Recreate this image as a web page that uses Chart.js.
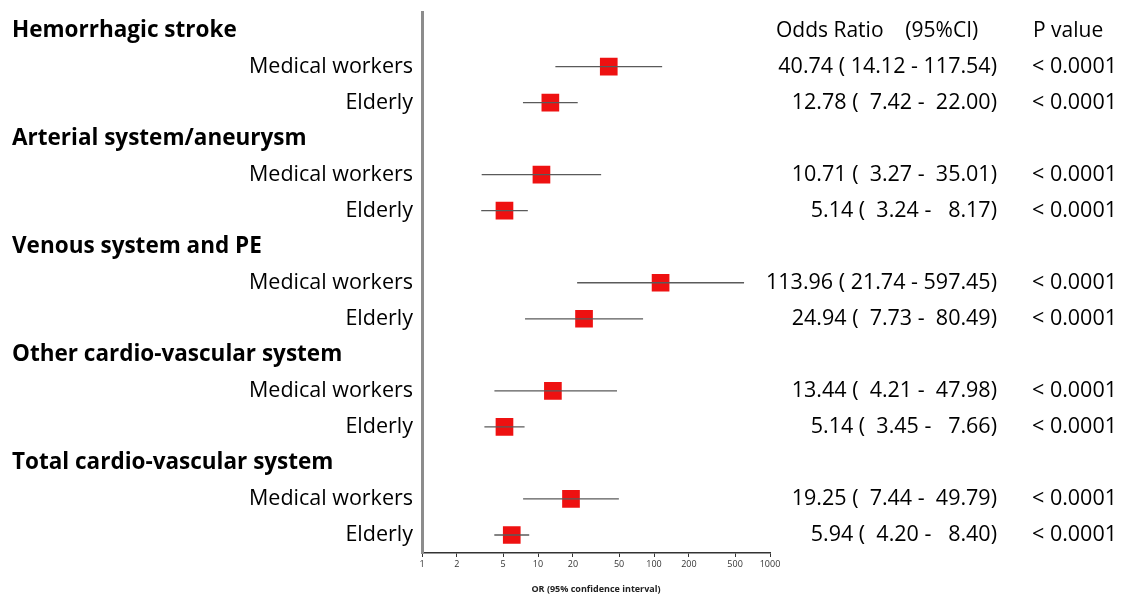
<!DOCTYPE html>
<html>
<head>
<meta charset="utf-8">
<script src="https://cdn.jsdelivr.net/npm/chart.js@4/dist/chart.umd.min.js"></script>
<style>
  html, body { margin: 0; padding: 0; background: #fff; }
  #wrap { width: 1124px; height: 595px; }
</style>
</head>
<body>
<div id="wrap"><canvas id="forest"></canvas></div>
<script>
const groups = ['Hemorrhagic stroke', 'Arterial system/aneurysm', 'Venous system and PE', 'Other cardio-vascular system', 'Total cardio-vascular system'];
const subgroups = ['Medical workers', 'Elderly'];
const orMedical = [40.74, 10.71, 113.96, 13.44, 19.25];
const loMedical = [14.12, 3.27, 21.74, 4.21, 7.44];
const hiMedical = [117.54, 35.01, 597.45, 47.98, 49.79];
const orElderly = [12.78, 5.14, 24.94, 5.14, 5.94];
const loElderly = [7.42, 3.24, 7.73, 3.45, 4.20];
const hiElderly = [22.00, 8.17, 80.49, 7.66, 8.40];
const pValues = ['< 0.0001', '< 0.0001', '< 0.0001', '< 0.0001', '< 0.0001', '< 0.0001', '< 0.0001', '< 0.0001', '< 0.0001', '< 0.0001'];
const xTicks = [1, 2, 5, 10, 20, 50, 100, 200, 500, 1000];

const fontName = '"Open Sans", sans-serif';

// build the 15 rows: header, medical workers, elderly per group
const rows = [];
groups.forEach(function (g, i) {
    rows.push({ label: g, header: true });
    rows.push({ label: subgroups[0], or: orMedical[i], lo: loMedical[i], hi: hiMedical[i] });
    rows.push({ label: subgroups[1], or: orElderly[i], lo: loElderly[i], hi: hiElderly[i] });
});

const datasets = [];
rows.forEach(function (r, idx) {
    if (r.header) return;
    datasets.push({
        type: 'line',
        data: [{ x: r.lo, y: idx }, { x: r.hi, y: idx }],
        borderColor: '#5a5a5a',
        borderWidth: 1.3,
        pointRadius: 0,
        showLine: true
    });
});
datasets.push({
    type: 'scatter',
    data: rows.map(function (r, idx) { return r.header ? null : { x: r.or, y: idx }; }).filter(Boolean),
    pointStyle: 'rect',
    pointRadius: 12.5,
    backgroundColor: '#ee1111',
    borderColor: '#ee1111',
    borderWidth: 0
});

function fmt(v, w) { return v.toFixed(2).padStart(w, ' '); }

const textPlugin = {
    id: 'forestText',
    afterDraw: function (chart) {
        const c = chart.ctx;
        const ys = chart.scales.y;
        c.save();
        c.fillStyle = '#000';
        c.textBaseline = 'middle';
        // table header
        c.font = '21px ' + fontName;
        c.textAlign = 'left';
        c.fillText('Odds Ratio    (95%CI)', 776, ys.getPixelForValue(0));
        c.fillText('P value', 1033, ys.getPixelForValue(0));
        let k = 0;
        rows.forEach(function (r, idx) {
            const y = ys.getPixelForValue(idx);
            if (r.header) {
                c.font = 'bold 22.5px ' + fontName;
                c.textAlign = 'left';
                c.fillText(r.label, 12, y);
                return;
            }
            c.font = '21.5px ' + fontName;
            c.textAlign = 'right';
            c.fillText(r.label, 413, y);
            c.fillText(fmt(r.or, 5) + ' (' + fmt(r.lo, 6) + ' -' + fmt(r.hi, 7) + ')', 997, y);
            c.fillText(pValues[k], 1117, y);
            k++;
        });
        c.restore();
    }
};

new Chart(document.getElementById('forest').getContext('2d'), {
    type: 'scatter',
    data: { datasets: datasets },
    plugins: [textPlugin],
    options: {
        responsive: true,
        maintainAspectRatio: false,
        animation: false,
        layout: { padding: { left: 0, right: 354, top: 12, bottom: 0 } },
        plugins: { legend: { display: false }, tooltip: { enabled: false } },
        scales: {
            x: {
                type: 'logarithmic',
                min: 1,
                max: 1000,
                afterBuildTicks: function (scale) {
                    scale.ticks = xTicks.map(function (v) { return { value: v }; });
                },
                afterFit: function (scale) { scale.height = 42; },
                ticks: {
                    autoSkip: false,
                    maxRotation: 0,
                    padding: 2,
                    color: '#333',
                    font: { size: 9, family: fontName },
                    callback: function (v) { return String(v); }
                },
                grid: { drawOnChartArea: false, tickLength: 4, color: '#333', lineWidth: 1 },
                border: { color: '#333', width: 1.5 },
                title: {
                    display: true,
                    text: 'OR (95% confidence interval)',
                    color: '#222',
                    font: { size: 9, family: fontName, weight: 'bold' },
                    padding: { top: 3, bottom: 0 }
                }
            },
            y: {
                type: 'linear',
                reverse: true,
                min: -0.5,
                max: 14.5,
                afterFit: function (scale) { scale.width = 422; },
                ticks: { display: false },
                grid: { display: false },
                border: { color: '#8c8c8c', width: 3 }
            }
        }
    }
});
</script>
</body>
</html>
